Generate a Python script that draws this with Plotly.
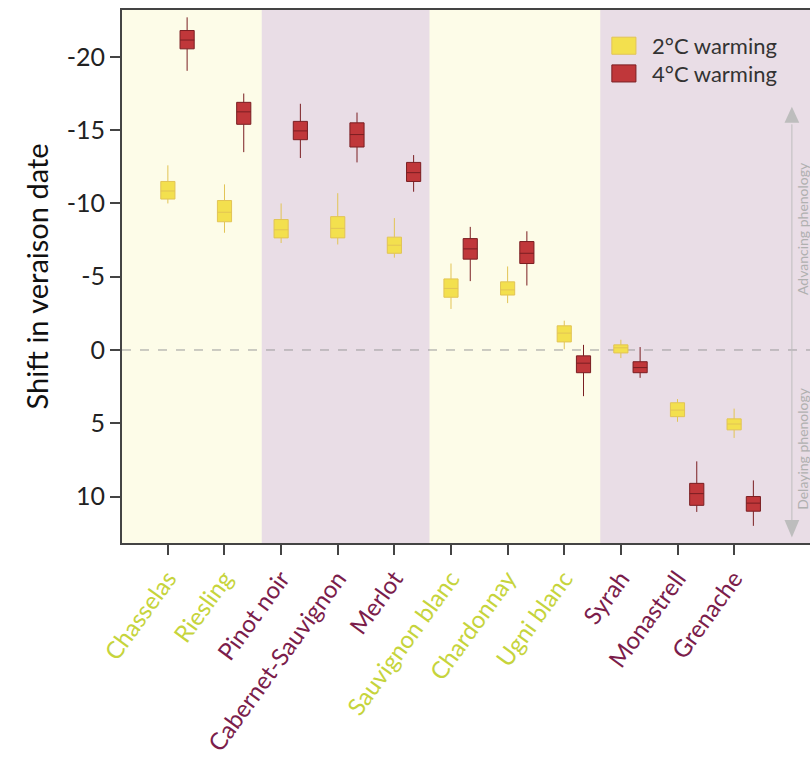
import plotly.graph_objects as go

# Grape varieties along the x axis; white varieties are labelled in yellow-green
varieties = ["Chasselas", "Riesling", "Pinot noir", "Cabernet-Sauvignon", "Merlot",
             "Sauvignon blanc", "Chardonnay", "Ugni blanc", "Syrah", "Monastrell", "Grenache"]
is_white = [True, True, False, False, False, True, True, True, False, False, False]

# Shift in veraison date (days) under 2°C warming
w2_low = [-12.6, -11.3, -10.0, -10.7, -9.0, -5.9, -5.7, -2.0, -0.7, 3.35, 4.0]
w2_q1 = [-11.5, -10.2, -8.9, -9.1, -7.7, -4.85, -4.65, -1.65, -0.35, 3.6, 4.7]
w2_med = [-10.85, -9.4, -8.2, -8.3, -7.15, -4.2, -4.1, -1.15, -0.15, 4.1, 5.05]
w2_q3 = [-10.3, -8.75, -7.65, -7.65, -6.6, -3.6, -3.75, -0.55, 0.2, 4.55, 5.45]
w2_high = [-10.0, -8.0, -7.3, -7.2, -6.3, -2.8, -3.2, -0.05, 0.55, 4.9, 6.0]

# Shift in veraison date (days) under 4°C warming
w4_low = [-22.7, -17.5, -16.8, -16.2, -13.3, -8.4, -8.1, -0.35, -0.2, 7.6, 8.9]
w4_q1 = [-21.8, -16.9, -15.6, -15.5, -12.8, -7.6, -7.4, 0.4, 0.8, 9.1, 10.0]
w4_med = [-21.15, -16.25, -14.95, -14.7, -12.1, -6.9, -6.6, 0.9, 1.2, 9.8, 10.45]
w4_q3 = [-20.55, -15.4, -14.35, -13.85, -11.5, -6.2, -5.9, 1.55, 1.55, 10.6, 11.0]
w4_high = [-19.05, -13.5, -13.1, -12.8, -10.8, -4.7, -4.4, 3.15, 1.9, 11.05, 12.0]

y_ticks = [-20, -15, -10, -5, 0, 5, 10]

WHITE_COL = "#C6D43C"
RED_COL = "#7B1D4B"
CREAM_BG = "#FDFCE8"
PINK_BG = "#E9DDE6"
FONT = "Lato"

idx = list(range(len(varieties)))
OFFSET = 0.34

fig = go.Figure()

fig.add_trace(go.Box(
    x=[i for i in idx], q1=w2_q1, median=w2_med, q3=w2_q3,
    lowerfence=w2_low, upperfence=w2_high,
    width=0.25, whiskerwidth=0,
    fillcolor="#F3E04E", line=dict(color="#E2C455", width=1),
    name="2°C warming", showlegend=False, hoverinfo="skip",
))
fig.add_trace(go.Box(
    x=[i + OFFSET for i in idx], q1=w4_q1, median=w4_med, q3=w4_q3,
    lowerfence=w4_low, upperfence=w4_high,
    width=0.25, whiskerwidth=0,
    fillcolor="#C0373A", line=dict(color="#7A1E22", width=1),
    name="4°C warming", showlegend=False, hoverinfo="skip",
))

shapes = []
# Background bands grouping white / red varieties
bands = [(-1.0, 1.66, CREAM_BG), (1.66, 4.62, PINK_BG), (4.62, 7.64, CREAM_BG), (7.64, 12.0, PINK_BG)]
for x0, x1, col in bands:
    shapes.append(dict(type="rect", xref="x", yref="paper", x0=x0, x1=x1, y0=0, y1=1,
                       fillcolor=col, line=dict(width=0), layer="below"))

# Zero reference line
shapes.append(dict(type="line", xref="paper", yref="y", x0=0, x1=1, y0=0, y1=0,
                   line=dict(color="#9A9A9A", width=1, dash="dash"), layer="below"))

# Phenology guide on the right: vertical line and arrow heads
gx = 11.02
shapes.append(dict(type="line", xref="x", yref="y", x0=gx, x1=gx, y0=-15.4, y1=11.6,
                   line=dict(color="#BDBDBD", width=1)))
shapes.append(dict(type="path", xref="x", yref="y",
                   path=f"M {gx-0.13},-15.5 L {gx+0.13},-15.5 L {gx},-16.6 Z",
                   fillcolor="#BDBDBD", line=dict(width=0)))
shapes.append(dict(type="path", xref="x", yref="y",
                   path=f"M {gx-0.13},11.6 L {gx+0.13},11.6 L {gx},12.8 Z",
                   fillcolor="#BDBDBD", line=dict(width=0)))

# Legend swatches
shapes.append(dict(type="rect", xref="paper", yref="paper", x0=0.712, x1=0.747, y0=0.917, y1=0.949,
                   fillcolor="#F3E04E", line=dict(color="#E2C455", width=1)))
shapes.append(dict(type="rect", xref="paper", yref="paper", x0=0.712, x1=0.747, y0=0.865, y1=0.897,
                   fillcolor="#C0373A", line=dict(color="#7A1E22", width=1)))

annotations = [
    dict(text="2°C warming", xref="paper", yref="paper", x=0.768, y=0.933, xanchor="left",
         yanchor="middle", showarrow=False, font=dict(family=FONT, size=22, color="#333333")),
    dict(text="4°C warming", xref="paper", yref="paper", x=0.768, y=0.881, xanchor="left",
         yanchor="middle", showarrow=False, font=dict(family=FONT, size=22, color="#333333")),
    dict(text="Advancing phenology", xref="x", yref="y", x=11.21, y=-8.3, textangle=-90,
         showarrow=False, font=dict(family=FONT, size=14, color="#B0B0B0")),
    dict(text="Delaying phenology", xref="x", yref="y", x=11.21, y=6.7, textangle=-90,
         showarrow=False, font=dict(family=FONT, size=14, color="#B0B0B0")),
]

tick_text = [f'<span style="color:{WHITE_COL if w else RED_COL}">{v}</span>'
             for v, w in zip(varieties, is_white)]

fig.update_layout(
    width=810, height=773,
    margin=dict(l=122, r=0, t=10, b=230),
    paper_bgcolor="white", plot_bgcolor=PINK_BG,
    boxmode="overlay",
    shapes=shapes, annotations=annotations,
    font=dict(family=FONT),
    xaxis=dict(
        range=[-0.81, 11.34], tickmode="array", tickvals=idx, ticktext=tick_text,
        tickangle=-54, tickfont=dict(family=FONT, size=24),
        ticks="outside", ticklen=10, tickwidth=1.5, tickcolor="#444444",
        showline=True, linecolor="#444444", linewidth=2, mirror=True,
        showgrid=False, zeroline=False,
    ),
    yaxis=dict(
        range=[13.17, -23.2], tickmode="array", tickvals=y_ticks,
        ticktext=[str(t) for t in y_ticks], tickfont=dict(family=FONT, size=25, color="#222222"),
        ticks="outside", ticklen=10, tickwidth=1.5, tickcolor="#444444",
        showline=True, linecolor="#444444", linewidth=2,
        showgrid=False, zeroline=False,
        title=dict(text="Shift in veraison date", font=dict(family=FONT, size=29, color="#111111"),
                   standoff=10),
    ),
)

fig.write_html("out.html")
